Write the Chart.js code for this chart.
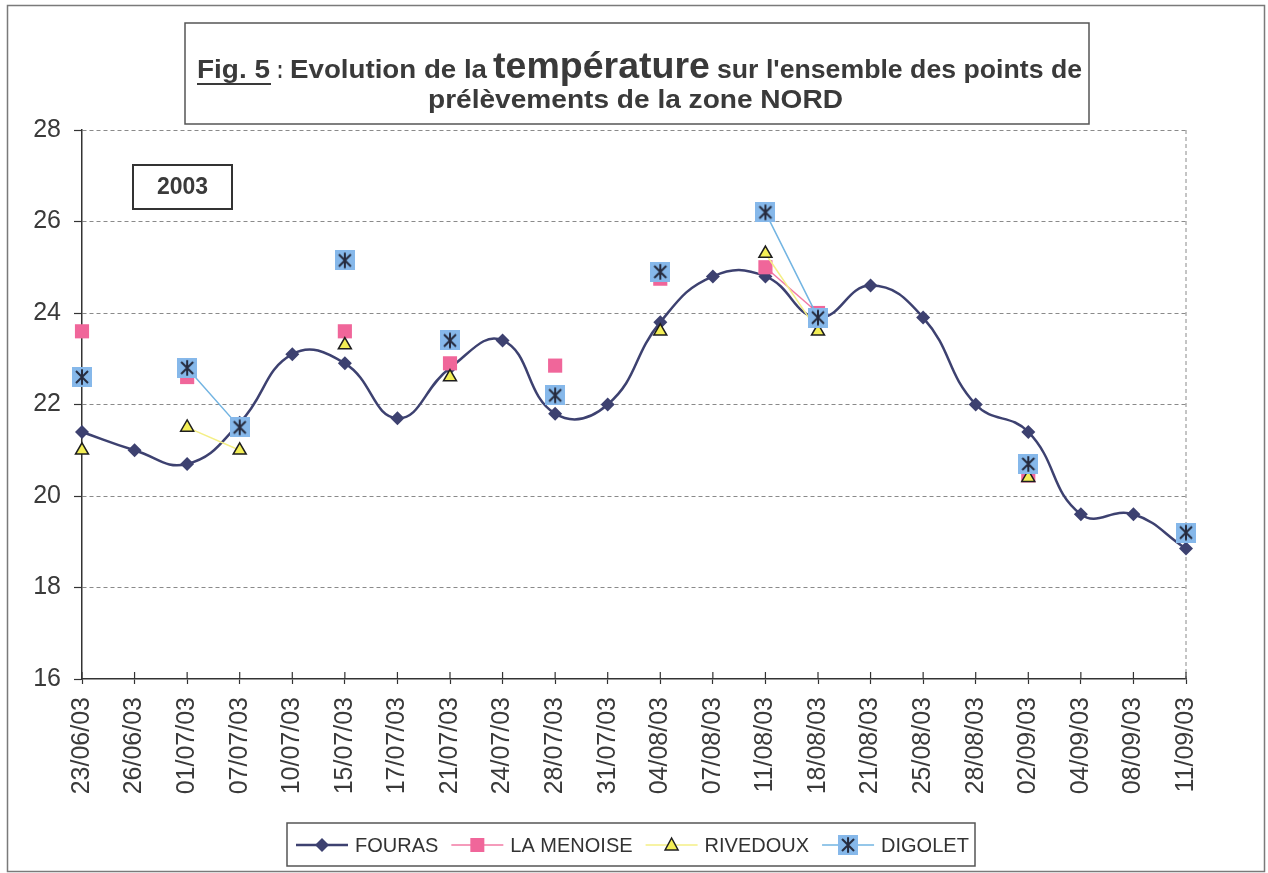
<!DOCTYPE html>
<html>
<head>
<meta charset="utf-8">
<title>Fig. 5 - Evolution de la température zone NORD</title>
<script src="https://cdn.jsdelivr.net/npm/chart.js@4.4.1/dist/chart.umd.min.js"></script>
<style>
  html, body { margin: 0; padding: 0; background: #fff; }
  #wrap { width: 1268px; height: 873px; }
</style>
</head>
<body>
<div id="wrap"><canvas id="myChart" width="1268" height="873"></canvas></div>
<script>
// dates de prélèvement (2003)
const dates = ["23/06/03", "26/06/03", "01/07/03", "07/07/03", "10/07/03", "15/07/03", "17/07/03",
  "21/07/03", "24/07/03", "28/07/03", "31/07/03", "04/08/03", "07/08/03", "11/08/03", "18/08/03",
  "21/08/03", "25/08/03", "28/08/03", "02/09/03", "04/09/03", "08/09/03", "11/09/03"];

// températures
const fouras   = [21.4, 21.0, 20.7, 21.6, 23.1, 22.9, 21.7, 22.8, 23.4, 21.8, 22.0, 23.8, 24.8, 24.8, 23.9, 24.6, 23.9, 22.0, 21.4, 19.6, 19.6, 18.85];
const menoise  = [23.6, null, 22.6, null, null, 23.6, null, 22.9, null, 22.85, null, 24.75, null, 25.0, 24.0, null, null, null, 20.45, null, null, null];
const rivedoux = [21.0, null, 21.5, 21.0, null, 23.3, null, 22.6, null, null, null, 23.6, null, 25.3, 23.6, null, null, null, 20.4, null, null, null];
const digolet  = [22.6, null, 22.8, 21.5, null, 25.15, null, 23.4, null, 22.2, null, 24.9, null, 26.2, 23.9, null, null, null, 20.7, null, null, 19.2];

const yTicks = [16, 18, 20, 22, 24, 26, 28];

Chart.defaults.font.family = "'Liberation Sans', Arial, sans-serif";

// marqueur DIGOLET : carré bleu avec étoile
function makeDigoletMarker(size) {
  const c = document.createElement('canvas');
  c.width = size; c.height = size;
  const g = c.getContext('2d');
  g.fillStyle = '#86b8ea';
  g.fillRect(0, 0, size, size);
  g.strokeStyle = '#262b3e';
  g.lineWidth = 2;
  const m = size / 2, r = size * 0.3;
  g.beginPath();
  g.moveTo(m - r, m - r); g.lineTo(m + r, m + r);
  g.moveTo(m + r, m - r); g.lineTo(m - r, m + r);
  g.moveTo(m, m - r * 1.3); g.lineTo(m, m + r * 1.3);
  g.stroke();
  return c;
}
const digoletMarker = makeDigoletMarker(20);

function drawMarker(c, kind, x, y) {
  c.save();
  if (kind === 'diamond') {
    c.fillStyle = '#3d4170';
    c.beginPath();
    c.moveTo(x, y - 7); c.lineTo(x + 7, y); c.lineTo(x, y + 7); c.lineTo(x - 7, y);
    c.closePath(); c.fill();
  } else if (kind === 'square') {
    c.fillStyle = '#f0669a';
    c.fillRect(x - 7, y - 7, 14, 14);
  } else if (kind === 'triangle') {
    c.fillStyle = '#f3ee55';
    c.strokeStyle = '#1e1e1e';
    c.lineWidth = 1.5;
    c.beginPath();
    c.moveTo(x, y - 7); c.lineTo(x + 6.5, y + 5); c.lineTo(x - 6.5, y + 5);
    c.closePath(); c.fill(); c.stroke();
  } else {
    c.drawImage(digoletMarker, x - 10, y - 10);
  }
  c.restore();
}

// texte étiré à une largeur donnée
function fitText(c, text, x, y, w) {
  const m = c.measureText(text).width;
  c.save();
  c.translate(x, y);
  c.scale(w / m, 1);
  c.fillText(text, 0, 0);
  c.restore();
}

const decor = {
  id: 'decor',
  beforeDraw(chart) {
    const c = chart.ctx;
    c.save();
    c.fillStyle = '#fff';
    c.fillRect(0, 0, chart.width, chart.height);
    c.restore();
  },
  beforeDatasetsDraw(chart) {
    const c = chart.ctx, a = chart.chartArea;
    // bord droit pointillé
    c.save();
    c.strokeStyle = '#8a8a8a';
    c.lineWidth = 1;
    c.setLineDash([4, 3]);
    c.beginPath();
    c.moveTo(a.right, a.top); c.lineTo(a.right, a.bottom);
    c.stroke();
    c.restore();
    // graduations x qui traversent l'axe
    const xs = chart.scales.x;
    c.save();
    c.strokeStyle = '#333';
    c.lineWidth = 1.2;
    c.beginPath();
    xs.ticks.forEach((t, i) => {
      const px = xs.getPixelForTick(i);
      c.moveTo(px, a.bottom); c.lineTo(px, a.bottom - 7);
    });
    c.stroke();
    c.restore();
  },
  afterDraw(chart) {
    const c = chart.ctx;
    c.save();
    // cadre extérieur
    c.strokeStyle = '#7a7a7a';
    c.lineWidth = 1.5;
    c.strokeRect(7.5, 5.5, 1257, 866);

    // titre
    c.strokeStyle = '#555';
    c.lineWidth = 1.5;
    c.strokeRect(185, 23, 904, 101);
    c.fillStyle = '#3a3a3a';
    c.textBaseline = 'alphabetic';
    c.textAlign = 'left';
    c.font = "bold 26px 'Liberation Sans'";
    fitText(c, 'Fig. 5', 197, 78, 73);
    c.fillRect(197, 83, 74, 2);
    fitText(c, ':', 277, 78, 6);
    fitText(c, 'Evolution de la', 290, 78, 197);
    fitText(c, "sur l'ensemble des points de", 717, 78, 365);
    fitText(c, 'prélèvements de la zone NORD', 428, 108, 415);
    c.font = "bold 37px 'Liberation Sans'";
    fitText(c, 'température', 493, 78, 217);

    // étiquette 2003
    c.strokeStyle = '#333';
    c.lineWidth = 2;
    c.strokeRect(133, 165, 99, 44);
    c.font = "bold 23px 'Liberation Sans'";
    c.textAlign = 'center';
    c.textBaseline = 'middle';
    c.fillText('2003', 182.5, 188);

    // légende
    c.strokeStyle = '#555';
    c.lineWidth = 1.5;
    c.strokeRect(287, 823, 688, 43);
    const items = [
      { label: 'FOURAS', color: '#3d4170', width: 2.5, kind: 'diamond' },
      { label: 'LA MENOISE', color: '#f27aa4', width: 1.5, kind: 'square' },
      { label: 'RIVEDOUX', color: '#f4ef86', width: 1.5, kind: 'triangle' },
      { label: 'DIGOLET', color: '#72b4e2', width: 1.5, kind: 'digolet' }
    ];
    c.font = "20px 'Liberation Sans'";
    c.textAlign = 'left';
    let lx = 296;
    const ly = 845;
    items.forEach(it => {
      c.strokeStyle = it.color;
      c.lineWidth = it.width;
      c.beginPath();
      c.moveTo(lx, ly); c.lineTo(lx + 52, ly);
      c.stroke();
      drawMarker(c, it.kind, lx + 26, ly);
      c.fillStyle = '#333';
      c.fillText(it.label, lx + 59, ly + 1);
      lx += 59 + c.measureText(it.label).width + 13;
    });
    c.restore();
  }
};

const ctx = document.getElementById('myChart').getContext('2d');
const myChart = new Chart(ctx, {
  type: 'line',
  data: {
    labels: dates,
    datasets: [
      {
        label: 'FOURAS', data: fouras,
        borderColor: '#3d4170', backgroundColor: '#3d4170', borderWidth: 2.5,
        pointStyle: 'rectRot', pointRadius: 7, pointBorderWidth: 0,
        tension: 0.45, clip: false, order: 4
      },
      {
        label: 'LA MENOISE', data: menoise,
        borderColor: '#f27aa4', backgroundColor: '#f0669a', borderWidth: 1.5,
        pointStyle: 'rect', pointRadius: 10, pointBorderWidth: 0,
        clip: false, order: 3
      },
      {
        label: 'RIVEDOUX', data: rivedoux,
        borderColor: '#f4ef86', backgroundColor: '#f3ee55', borderWidth: 1.5,
        pointStyle: 'triangle', pointRadius: 7.5, pointBorderColor: '#1e1e1e', pointBorderWidth: 1.5,
        clip: false, order: 2
      },
      {
        label: 'DIGOLET', data: digolet,
        borderColor: '#72b4e2', backgroundColor: '#86b8ea', borderWidth: 1.5,
        pointStyle: digoletMarker, pointRadius: 10,
        clip: false, order: 1
      }
    ]
  },
  options: {
    responsive: false,
    animation: false,
    layout: { padding: { left: 0, right: 82, top: 130, bottom: 0 } },
    plugins: {
      legend: { display: false },
      tooltip: { enabled: false }
    },
    scales: {
      x: {
        afterFit: s => { s.height = 194; },
        grid: { drawOnChartArea: false, drawTicks: true, tickLength: 5, tickColor: '#333', tickWidth: 1.2 },
        border: { color: '#333', width: 1.5 },
        ticks: {
          autoSkip: false, maxRotation: 90, minRotation: 90, padding: 13,
          color: '#3a3a3a', font: { size: 25 }
        }
      },
      y: {
        min: 16, max: 28,
        afterFit: s => { s.width = 82; },
        afterBuildTicks: s => { s.ticks = yTicks.map(v => ({ value: v })); },
        grid: {
          color: c => (c.tick && c.tick.value === 16) ? 'rgba(0,0,0,0)' : '#8a8a8a',
          lineWidth: 1, tickLength: 8, tickColor: '#333', tickWidth: 1.2, tickBorderDash: []
        },
        border: { color: '#333', width: 1.5, dash: [4, 3] },
        ticks: { padding: 13, color: '#3a3a3a', font: { size: 25 } }
      }
    }
  },
  plugins: [decor]
});
</script>
</body>
</html>
